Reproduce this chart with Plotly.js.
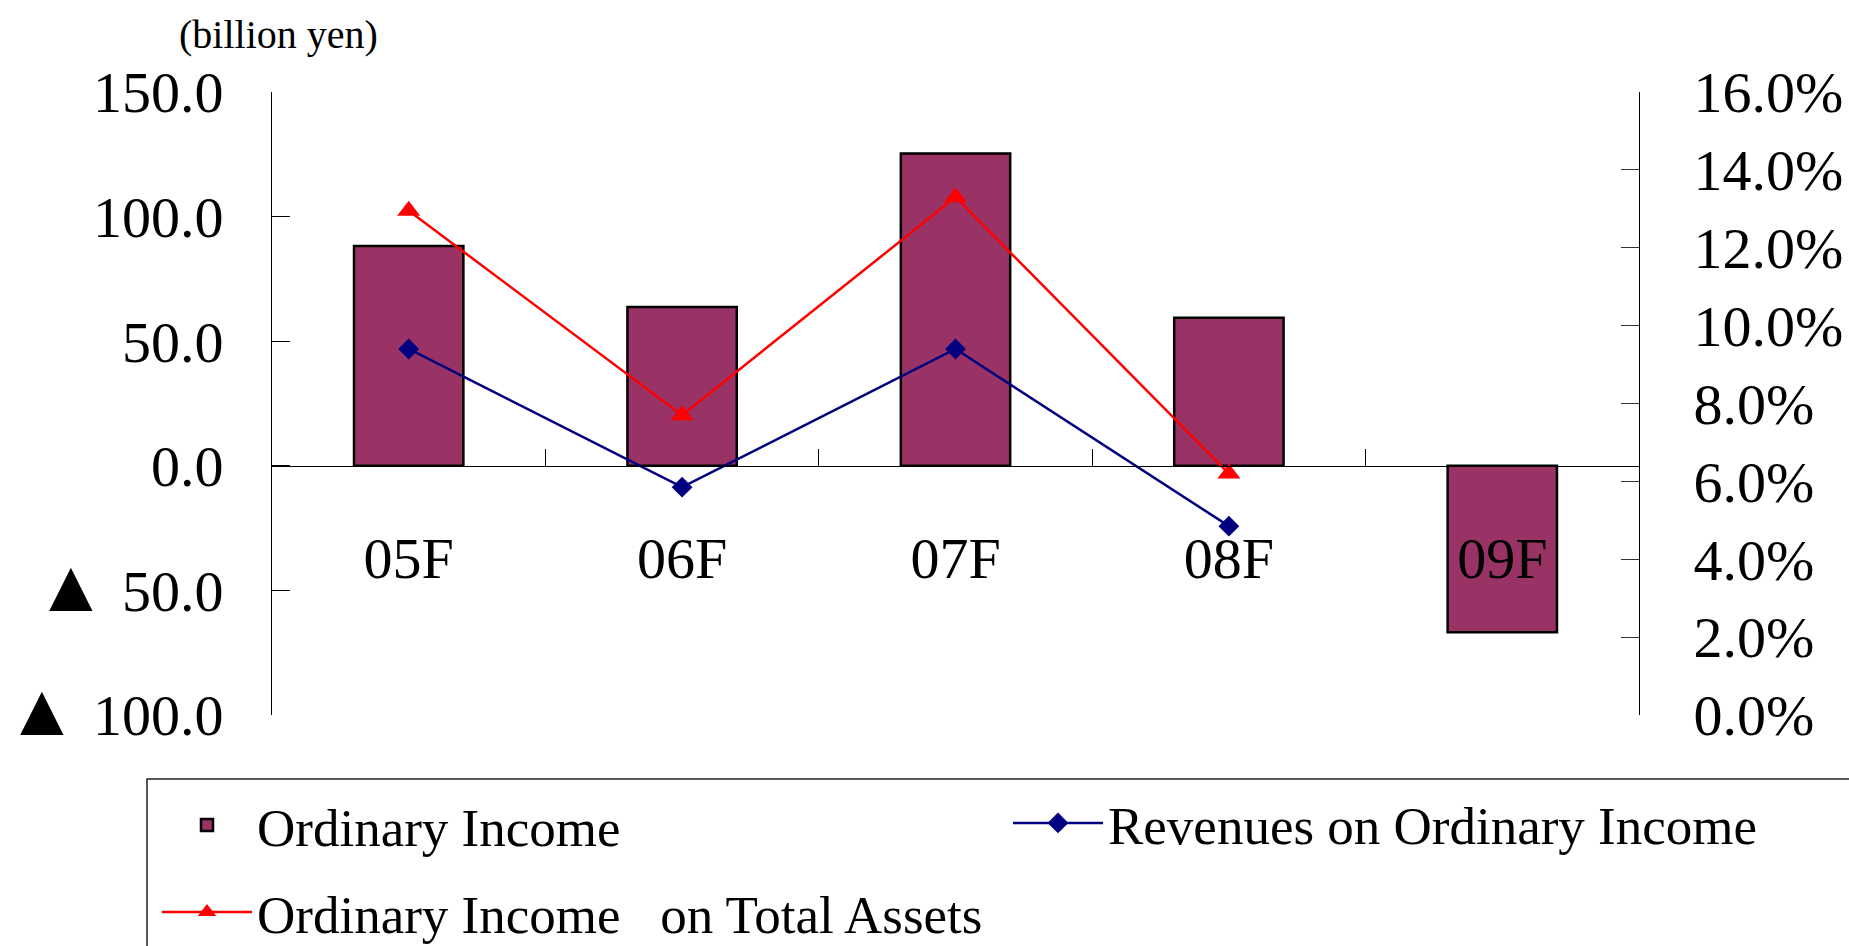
<!DOCTYPE html>
<html>
<head>
<meta charset="utf-8">
<script src="https://cdn.plot.ly/plotly-3.0.1.min.js"></script>
<style>
  html, body { margin: 0; padding: 0; background: #ffffff; }
  #chart { width: 1849px; height: 946px; }
</style>
</head>
<body>
<div id="chart"></div>
<script>
// ---- data ----
const categories = ['05F', '06F', '07F', '08F', '09F'];
const ordinaryIncome = [88.2, 63.7, 125.3, 59.4, -66.8];          // billion yen
const revenuesOnOrdinaryIncome = [9.4, 5.85, 9.4, 4.85, null];     // %
const ordinaryIncomeOnTotalAssets = [12.95, 7.7, 13.3, 6.2, null]; // %

const seriesNames = ['Ordinary Income', 'Revenues on Ordinary Income', 'Ordinary Income\u00a0\u00a0 on Total Assets'];

const leftTickVals = [-100, -50, 0, 50, 100, 150];
const negMark = '<span style="font-size:74px">\u25B2</span> ';
const leftTickText = [negMark + '100.0', negMark + '50.0', '0.0', '50.0', '100.0', '150.0'];
const rightTickVals = [0, 2, 4, 6, 8, 10, 12, 14, 16];
const rightTickText = ['0.0%', '2.0%', '4.0%', '6.0%', '8.0%', '10.0%', '12.0%', '14.0%', '16.0%'];
const unitLabel = '(billion yen)';

// ---- layout geometry ----
const W = 1849, H = 946;
const M = { l: 272, r: 210, t: 92, b: 231 };
const PW = W - M.l - M.r, PH = H - M.t - M.b;
const px2x = px => (px - M.l) / PW;
const py2y = py => (H - M.b - py) / PH;

const serif = 'Liberation Serif, Times New Roman, serif';

const traces = [
  {
    type: 'bar', name: seriesNames[0], x: categories, y: ordinaryIncome,
    width: 0.4, yaxis: 'y', legend: 'legend',
    marker: { color: '#993366', line: { color: '#000000', width: 2.5 } },
    hoverinfo: 'x+y'
  },
  {
    type: 'scatter', mode: 'lines+markers', name: seriesNames[1], x: categories, y: revenuesOnOrdinaryIncome,
    yaxis: 'y2', legend: 'legend2',
    line: { color: '#000080', width: 2.5 },
    marker: { symbol: 'diamond', size: 16, color: '#000080' }
  },
  {
    type: 'scatter', mode: 'lines+markers', name: seriesNames[2], x: categories, y: ordinaryIncomeOnTotalAssets,
    yaxis: 'y2', legend: 'legend3',
    line: { color: '#FF0000', width: 2.5 },
    marker: { symbol: 'triangle-up', size: 20, color: '#FF0000' }
  }
];

const legendCommon = {
  orientation: 'v', xanchor: 'left', yanchor: 'middle', itemwidth: 90,
  bgcolor: 'rgba(0,0,0,0)', borderwidth: 0,
  font: { family: serif, size: 53, color: '#000000' },
  itemclick: false, itemdoubleclick: false
};

const layout = {
  width: W, height: H,
  margin: Object.assign({ autoexpand: false }, M),
  paper_bgcolor: '#ffffff', plot_bgcolor: '#ffffff',
  font: { family: serif, color: '#000000' },
  showlegend: true,
  xaxis: {
    type: 'category', range: [-0.5, 4.5],
    anchor: 'free', position: 0.4,
    showline: true, linecolor: '#000000', linewidth: 1,
    ticks: 'inside', tickson: 'boundaries', ticklen: 17, tickcolor: '#000000', tickwidth: 1,
    showgrid: false, zeroline: false,
    tickfont: { family: serif, size: 58, color: '#000000' },
    ticklabelstandoff: 42
  },
  yaxis: {
    range: [-100, 150],
    tickvals: leftTickVals, ticktext: leftTickText,
    showline: true, linecolor: '#000000', linewidth: 1,
    ticks: 'inside', ticklen: 18, tickcolor: '#000000', tickwidth: 1,
    showgrid: false, zeroline: false,
    tickfont: { family: serif, size: 58, color: '#000000' },
    ticklabelstandoff: 36
  },
  yaxis2: {
    range: [0, 16], overlaying: 'y', side: 'right', anchor: 'x',
    tickvals: rightTickVals, ticktext: rightTickText,
    showline: true, linecolor: '#000000', linewidth: 1,
    ticks: 'inside', ticklen: 18, tickcolor: '#333333', tickwidth: 1,
    showgrid: false, zeroline: false,
    tickfont: { family: serif, size: 58, color: '#000000' },
    ticklabelstandoff: 42
  },
  legend: Object.assign({}, legendCommon, { x: px2x(157), y: py2y(825) }),
  legend2: Object.assign({}, legendCommon, { x: px2x(1008), y: py2y(823) }),
  legend3: Object.assign({}, legendCommon, { x: px2x(157), y: py2y(912) }),
  shapes: [
    {
      type: 'rect', xref: 'paper', yref: 'paper', layer: 'below',
      x0: px2x(147), x1: px2x(1900), y0: py2y(1000), y1: py2y(779),
      line: { color: '#222222', width: 1.5 }, fillcolor: 'rgba(0,0,0,0)'
    }
  ],
  annotations: [
    {
      text: unitLabel, xref: 'paper', yref: 'paper',
      x: px2x(278), y: py2y(34), xanchor: 'center', yanchor: 'middle',
      showarrow: false, font: { family: serif, size: 40, color: '#000000' }
    }
  ]
};

Plotly.newPlot('chart', traces, layout, { displayModeBar: false, responsive: false, staticPlot: false });
</script>
</body>
</html>
